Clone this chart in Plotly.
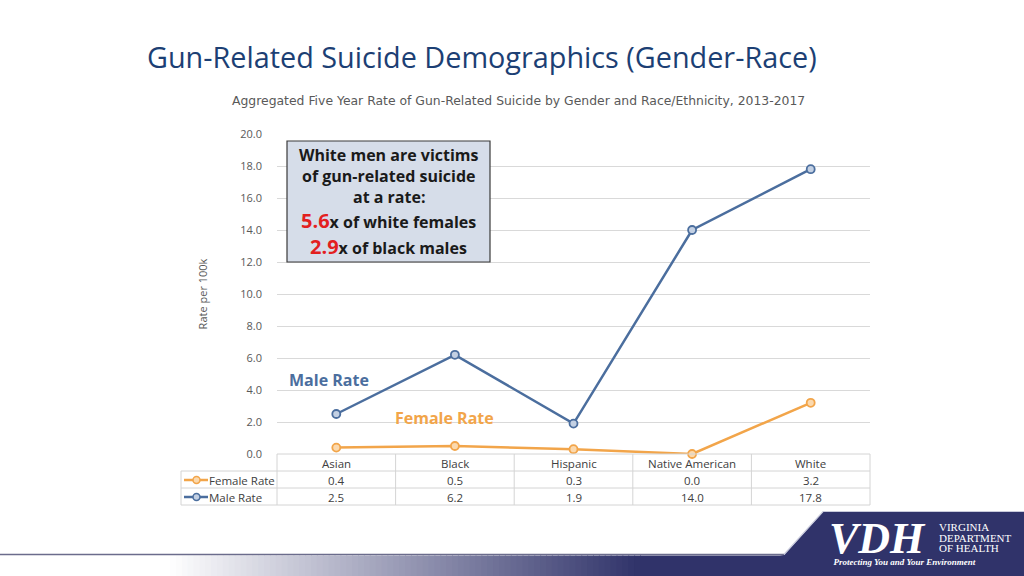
import plotly.graph_objects as go

categories = ["Asian", "Black", "Hispanic", "Native American", "White"]
female_rate = [0.4, 0.5, 0.3, 0.0, 3.2]
male_rate = [2.5, 6.2, 1.9, 14.0, 17.8]
series_names = ["Female Rate", "Male Rate"]
y_ticks = [0, 2, 4, 6, 8, 10, 12, 14, 16, 18, 20]

W, H = 1024, 576
L, R, T, B = 277, 154, 134, 122
PW, PH = W - L - R, H - T - B

FEMALE = "#f2a54a"
MALE = "#4b6e9e"
GRID = "#d9d9d9"
TXT = "#595959"
NAVY = "#30336a"

def px(x):
    return (x - L) / PW

def py(y):
    return (H - B - y) / PH

fig = go.Figure()
fig.add_trace(go.Scatter(x=categories, y=female_rate, mode="lines+markers", name=series_names[0],
                         line=dict(color=FEMALE, width=2.5),
                         marker=dict(size=8, color="#fbd9ae", line=dict(color=FEMALE, width=1.8)),
                         showlegend=False, cliponaxis=False))
fig.add_trace(go.Scatter(x=categories, y=male_rate, mode="lines+markers", name=series_names[1],
                         line=dict(color=MALE, width=2.5),
                         marker=dict(size=8, color="#c3d0e3", line=dict(color=MALE, width=1.8)),
                         showlegend=False, cliponaxis=False))

shapes = []
annotations = []

def ann(x, y, text, font, xanchor="center", xref="paper", yanchor="middle", align="center"):
    annotations.append(dict(xref=xref, yref="paper", x=x, y=y, text=text, showarrow=False, font=font,
                            xanchor=xanchor, yanchor=yanchor, align=align))

# title + subtitle
ann(px(482), py(57), "Gun-Related Suicide Demographics (Gender-Race)", dict(family="Open Sans", size=28.8, color="#1c3f74"))
ann(px(518), py(100), "Aggregated Five Year Rate of Gun-Related Suicide by Gender and Race/Ethnicity, 2013-2017",
    dict(family="DejaVu Sans", size=12.4, color=TXT))

# data table
tl = dict(color="#d4d4d4", width=1)
row_y = [454, 471, 488, 505]
shapes.append(dict(type="line", xref="paper", yref="paper", x0=px(277), x1=px(870), y0=py(454), y1=py(454), line=tl))
for yy in row_y[1:]:
    shapes.append(dict(type="line", xref="paper", yref="paper", x0=px(181), x1=px(870), y0=py(yy), y1=py(yy), line=tl))
shapes.append(dict(type="line", xref="paper", yref="paper", x0=px(181), x1=px(181), y0=py(471), y1=py(505), line=tl))
for i in range(len(categories) + 1):
    xx = 277 + i * (870 - 277) / len(categories)
    shapes.append(dict(type="line", xref="paper", yref="paper", x0=px(xx), x1=px(xx), y0=py(454), y1=py(505), line=tl))

cell_font = dict(family="Open Sans", size=11.5, color="#404040")
for c, f, m in zip(categories, female_rate, male_rate):
    ann(c, py(463), c, cell_font, xref="x")
    ann(c, py(480), f"{f:.1f}", cell_font, xref="x")
    ann(c, py(497), f"{m:.1f}", cell_font, xref="x")

for name, color, fillc, yy in [(series_names[0], FEMALE, "#fbd9ae", 480), (series_names[1], MALE, "#c3d0e3", 497)]:
    shapes.append(dict(type="line", xref="paper", yref="paper", x0=px(184), x1=px(208), y0=py(yy), y1=py(yy),
                       line=dict(color=color, width=2.5)))
    shapes.append(dict(type="circle", xref="paper", yref="paper", x0=px(193), x1=px(200), y0=py(yy - 3.5), y1=py(yy + 3.5),
                       line=dict(color=color, width=1.5), fillcolor=fillc))
    ann(px(207), py(yy), name, cell_font, xanchor="left")

# series labels
ann(px(287), py(380), "<b>Male Rate</b>", dict(family="Open Sans", size=16, color=MALE), xanchor="left")
ann(px(393), py(418), "<b>Female Rate</b>", dict(family="Open Sans", size=16, color=FEMALE), xanchor="left")

# callout box
shapes.append(dict(type="rect", xref="paper", yref="paper", x0=px(287), x1=px(490), y0=py(141), y1=py(262),
                   fillcolor="#d6dde9", line=dict(color="#3a3a3a", width=1.2)))
bf = dict(family="Open Sans", size=16, color="#1a1a1a")
red = "#e3201f"
box_lines = [("<b>White men are victims</b>", 155),
             ("<b>of gun-related suicide</b>", 176),
             ("<b>at a rate:</b>", 197),
             (f"<b><span style='color:{red};font-size:20px'>5.6</span>x of white females</b>", 220),
             (f"<b><span style='color:{red};font-size:20px'>2.9</span>x of black males</b>", 246)]
for t, yy in box_lines:
    ann(px(388.5), py(yy), t, bf)

# bottom band with gradient
n = 80
x_start, x_end = 170, 640
def blend(t):
    c0 = (255, 255, 255)
    c1 = (48, 51, 106)
    return "rgb(%d,%d,%d)" % tuple(int(c0[k] + (c1[k] - c0[k]) * t) for k in range(3))
for i in range(n):
    xa = x_start + (x_end - x_start) * i / n
    xb = x_start + (x_end - x_start) * (i + 1) / n + 1
    t = (i + 0.5) / n
    shapes.append(dict(type="rect", xref="paper", yref="paper", x0=px(xa), x1=px(xb), y0=py(576), y1=py(555.5),
                       fillcolor=blend(t), line=dict(width=0), layer="below"))
shapes.append(dict(type="rect", xref="paper", yref="paper", x0=px(x_end), x1=px(800), y0=py(576), y1=py(555.5),
                   fillcolor=NAVY, line=dict(width=0), layer="below"))
shapes.append(dict(type="line", xref="paper", yref="paper", x0=px(0), x1=px(784), y0=py(554.5), y1=py(554.5),
                   line=dict(color="#6b6c8c", width=1.5)))

# logo block
shapes.append(dict(type="path", xref="paper", yref="paper",
                   path=f"M {px(823)} {py(512)} L {px(1024)} {py(512)} L {px(1024)} {py(576)} L {px(780)} {py(576)} "
                        f"L {px(780)} {py(556)} L {px(784)} {py(555)} Z",
                   fillcolor=NAVY, line=dict(width=0)))
shapes.append(dict(type="path", xref="paper", yref="paper",
                   path=f"M {px(784)} {py(554.5)} L {px(823)} {py(511.5)} L {px(1024)} {py(511.5)}",
                   line=dict(color="#c8cadb", width=1.2)))
ann(px(827), py(569),
    "<b><i><span style='font-size:44px'>VDH</span><br>&nbsp;&nbsp;Protecting You and Your Environment</i></b>",
    dict(family="Liberation Serif", size=9, color="white"), xanchor="left", yanchor="bottom", align="left")
for t, yy in [("VIRGINIA", 527), ("DEPARTMENT", 537.5), ("OF HEALTH", 548)]:
    ann(px(937), py(yy), t, dict(family="Liberation Serif", size=11, color="white"), xanchor="left")

fig.update_layout(
    width=W, height=H,
    margin=dict(l=L, r=R, t=T, b=B),
    paper_bgcolor="white", plot_bgcolor="white",
    shapes=shapes, annotations=annotations,
    xaxis=dict(type="category", range=[-0.5, 4.5], showticklabels=False, showgrid=False, zeroline=False,
               showline=False, ticks=""),
    yaxis=dict(range=[0, 20], tickvals=y_ticks, tickformat=".1f", showgrid=True, gridcolor=GRID, gridwidth=1,
               zeroline=False, showline=False, ticks="", ticklabelstandoff=14,
               tickfont=dict(family="Open Sans", size=11, color=TXT),
               title=dict(text="Rate per 100k", font=dict(family="Open Sans", size=11, color=TXT), standoff=30)),
)

fig.write_html("out.html", config={"displayModeBar": False},
               post_script="document.body.style.margin='0';document.body.style.overflow='hidden';")
